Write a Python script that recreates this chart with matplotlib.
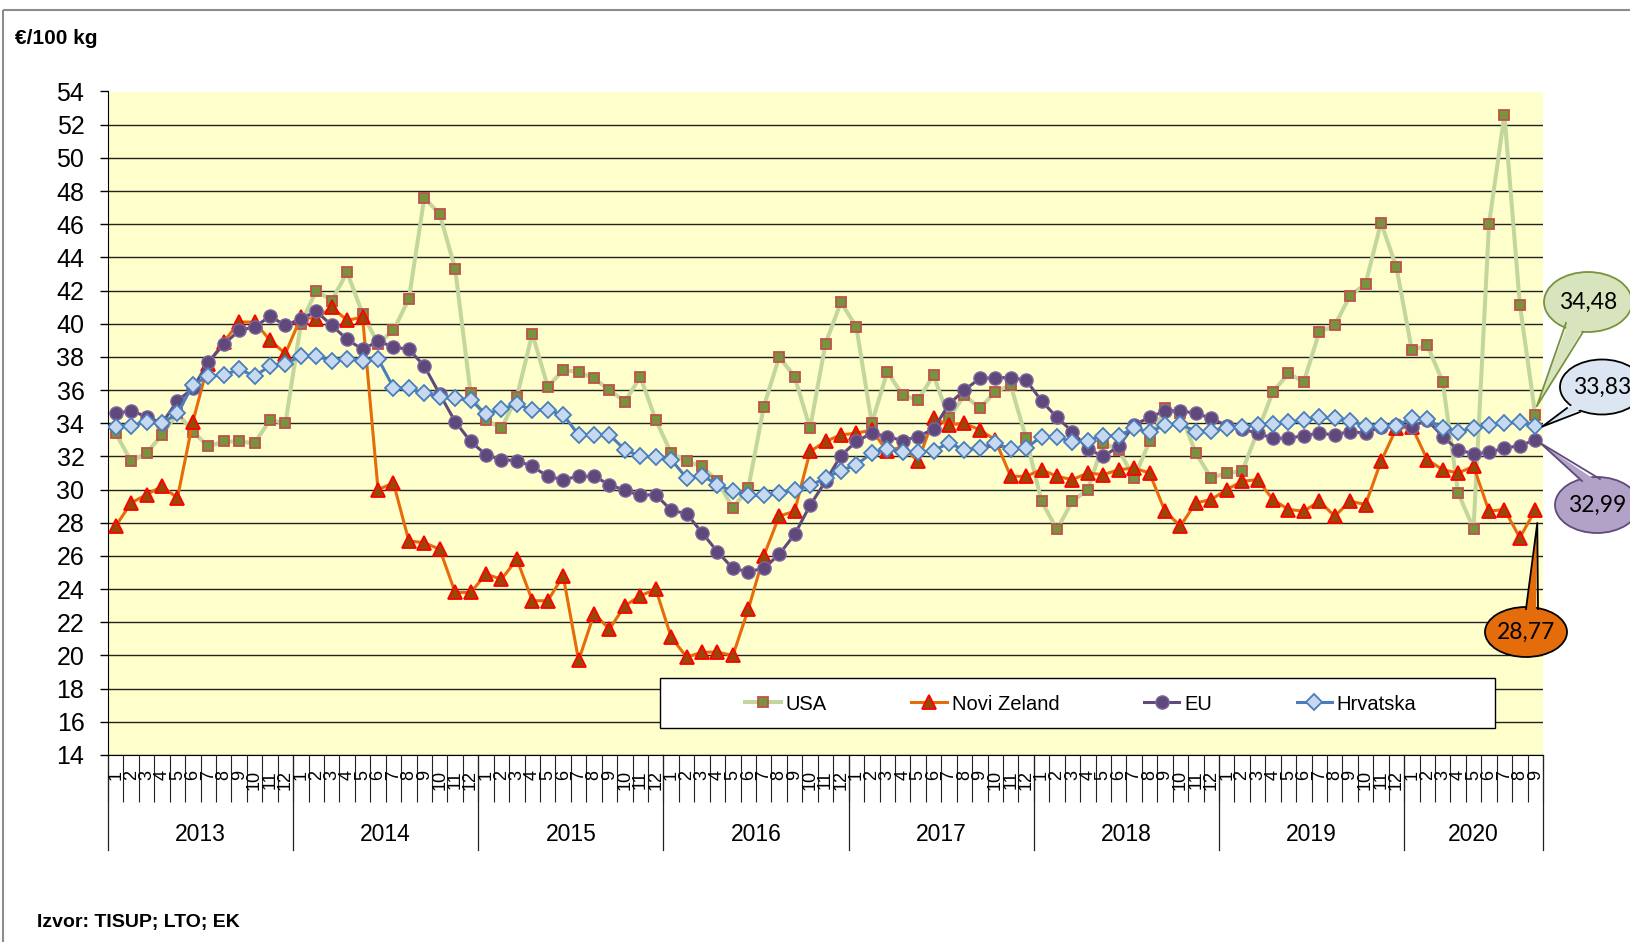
import numpy as np
import matplotlib
matplotlib.use('Agg')
import matplotlib.pyplot as plt
from matplotlib.patches import Ellipse, Polygon, Rectangle

W, H = 1631, 942

# podaci (EUR/100 kg), mjesecno 1/2013 - 9/2020
years = ['2013', '2014', '2015', '2016', '2017', '2018', '2019', '2020']
months_per_year = [12, 12, 12, 12, 12, 12, 12, 9]
month_names = ['1', '2', '3', '4', '5', '6', '7', '8', '9', '10', '11', '12']

usa = [33.4, 31.7, 32.2, 33.3, 34.6, 33.5, 32.6, 32.9, 32.9, 32.8, 34.2, 34.0,
       40.0, 42.0, 41.4, 43.1, 40.6, 38.8, 39.6, 41.5, 47.6, 46.6, 43.3, 35.8,
       34.2, 33.7, 35.6, 39.4, 36.2, 37.2, 37.1, 36.7, 36.0, 35.3, 36.8, 34.2,
       32.2, 31.7, 31.4, 30.5, 28.9, 30.1, 35.0, 38.0, 36.8, 33.7, 38.8, 41.3,
       39.8, 34.0, 37.1, 35.7, 35.4, 36.9, 34.3, 35.7, 34.9, 35.9, 36.3, 33.1,
       29.3, 27.6, 29.3, 30.0, 32.8, 32.4, 30.7, 32.9, 34.9, 34.6, 32.2, 30.7,
       31.0, 31.1, 33.5, 35.9, 37.0, 36.5, 39.5, 39.9, 41.7, 42.4, 46.1, 43.4,
       38.4, 38.7, 36.5, 29.8, 27.65, 46.0, 52.6, 41.15, 34.48]

novi_zeland = [27.8, 29.2, 29.7, 30.2, 29.5, 34.1, 37.6, 38.9, 40.1, 40.1, 39.0, 38.2,
               40.4, 40.3, 41.0, 40.2, 40.4, 30.0, 30.4, 26.9, 26.8, 26.4, 23.8, 23.8,
               24.9, 24.6, 25.8, 23.3, 23.3, 24.8, 19.7, 22.5, 21.6, 23.0, 23.6, 24.0,
               21.1, 19.9, 20.2, 20.2, 20.0, 22.8, 26.0, 28.4, 28.7, 32.3, 32.9, 33.3,
               33.4, 33.6, 32.3, 32.6, 31.7, 34.3, 33.9, 34.0, 33.6, 33.0, 30.8, 30.8,
               31.2, 30.8, 30.6, 31.0, 30.9, 31.2, 31.3, 31.0, 28.7, 27.8, 29.2, 29.4,
               30.0, 30.5, 30.6, 29.4, 28.8, 28.7, 29.3, 28.4, 29.3, 29.1, 31.7, 33.7,
               33.8, 31.8, 31.2, 31.0, 31.4, 28.7, 28.8, 27.1, 28.77]

eu = [34.6, 34.75, 34.4, 34.0, 35.35, 36.1, 37.7, 38.75, 39.6, 39.8, 40.45, 39.9,
      40.3, 40.75, 39.9, 39.05, 38.45, 38.95, 38.6, 38.45, 37.45, 35.75, 34.1, 32.9,
      32.1, 31.8, 31.75, 31.4, 30.8, 30.6, 30.8, 30.8, 30.3, 29.95, 29.65, 29.7,
      28.75, 28.55, 27.4, 26.25, 25.25, 25.05, 25.25, 26.1, 27.3, 29.05, 30.5, 32.05,
      32.9, 33.4, 33.2, 32.95, 33.2, 33.65, 35.15, 36.0, 36.7, 36.75, 36.75, 36.6,
      35.35, 34.35, 33.5, 32.45, 32.0, 32.6, 33.9, 34.35, 34.75, 34.75, 34.6, 34.3,
      33.85, 33.65, 33.4, 33.1, 33.1, 33.25, 33.4, 33.3, 33.5, 33.4, 33.8, 33.9,
      33.8, 34.2, 33.2, 32.4, 32.15, 32.25, 32.5, 32.65, 32.99]

hrvatska = [33.8, 33.85, 34.1, 34.0, 34.6, 36.3, 36.85, 36.9, 37.25, 36.85, 37.45, 37.6,
            38.05, 38.05, 37.75, 37.9, 37.75, 37.9, 36.15, 36.1, 35.8, 35.6, 35.5, 35.4,
            34.55, 34.85, 35.15, 34.8, 34.8, 34.5, 33.3, 33.3, 33.3, 32.4, 32.0, 31.95,
            31.8, 30.7, 30.85, 30.3, 29.9, 29.65, 29.65, 29.8, 30.0, 30.25, 30.7, 31.15,
            31.5, 32.2, 32.45, 32.25, 32.25, 32.35, 32.8, 32.4, 32.5, 32.8, 32.45, 32.5,
            33.2, 33.2, 32.85, 32.95, 33.25, 33.25, 33.7, 33.45, 33.9, 33.95, 33.5, 33.55,
            33.7, 33.8, 33.9, 33.95, 34.05, 34.2, 34.35, 34.3, 34.15, 33.85, 33.85, 33.85,
            34.3, 34.25, 33.7, 33.5, 33.7, 33.9, 34.0, 34.1, 33.83]

plt.rcParams['font.family'] = ['Liberation Sans', 'DejaVu Sans']

fig = plt.figure(figsize=(W / 100, H / 100), dpi=100)
ax = fig.add_axes([108 / W, 1 - 755 / H, (1543 - 108) / W, (755 - 91.5) / H])
ax.set_facecolor('#ffffcc')

x = np.arange(len(usa))
ax.plot(x, usa, color='#c3d69b', lw=2.9, marker='s', ms=7.2, mfc='#77933c',
        mec='#c0504d', mew=1.3, label='USA', zorder=3)
ax.plot(x, novi_zeland, color='#e46c0a', lw=2.2, marker='^', ms=10, mfc='#984807',
        mec='#ff0000', mew=1.3, label='Novi Zeland', zorder=4)
ax.plot(x, eu, color='#604a7b', lw=2.2, marker='o', ms=9.5, mfc='#5f497a',
        mec='#8064a2', mew=1.0, label='EU', zorder=5)
ax.plot(x, hrvatska, color='#4a7ebb', lw=2.2, marker='D', ms=8, mfc='#c6d9f1',
        mec='#4a7ebb', mew=1.3, label='Hrvatska', zorder=6)

ax.set_xlim(-0.5, len(usa) - 0.5)
ax.set_ylim(14, 54)
ax.set_yticks(np.arange(14, 55, 2))
ax.tick_params(axis='y', labelsize=18, length=6, width=1, pad=11)
ax.set_axisbelow(True)
ax.yaxis.grid(True, color='#222222', lw=1.0)
ax.get_ygridlines()[-1].set_visible(False)
for s in ['top', 'right']:
    ax.spines[s].set_visible(False)
ax.spines['left'].set_color('black')
ax.spines['bottom'].set_color('black')

# x os: mjeseci i godine
ax.set_xticks(np.arange(-0.5, len(usa), 1))
ax.set_xticklabels([])
ax.tick_params(axis='x', length=34, width=0.8, color='#222222')
xt = ax.get_xaxis_transform()
pos = 0
bounds = [-0.5]
for yr, nm in zip(years, months_per_year):
    for m in range(nm):
        ax.text(pos + m, -0.023, month_names[m], rotation=90, ha='center', va='top',
                fontsize=13, transform=xt)
    ax.text(pos + (nm - 1) / 2, -0.1205, yr, ha='center', va='center',
            fontsize=16.5, transform=xt)
    pos += nm
    bounds.append(pos - 0.5)
for b in bounds:
    ax.plot([b, b], [0, -95 / 664], color='#222222', lw=0.9, transform=xt, clip_on=False)

# legenda
ax.add_patch(Rectangle((660 / W, 1 - 728 / H), (1495 - 660) / W, 50 / H,
                       transform=fig.transFigure, fc='white', ec='black', lw=1,
                       clip_on=False, zorder=10))
leg = ax.legend(loc='center', bbox_to_anchor=(1081 / W, 1 - 704 / H),
                bbox_transform=fig.transFigure, ncol=4, frameon=False,
                fontsize=14.5, handlelength=1.75, handletextpad=0.25,
                columnspacing=4.2)
leg.set_zorder(11)

fig.text(15 / W, 1 - 38 / H, '€/100 kg', fontsize=15, fontweight='bold',
         va='center', ha='left')
fig.text(37 / W, 1 - 923 / H, 'Izvor: TISUP; LTO; EK', fontsize=14, fontweight='bold',
         va='center', ha='left')

# okvir i oblacici s posljednjim vrijednostima
ov = fig.add_axes([0, 0, 1, 1], zorder=20)
ov.set_xlim(0, W)
ov.set_ylim(H, 0)
ov.axis('off')
ov.patch.set_alpha(0)
ov.add_patch(Rectangle((3.5, 9.5), W + 10, H + 10, fill=False, ec='#8c8c8c', lw=1.5))


def to_px(xv, yv):
    return ov.transData.inverted().transform(ax.transData.transform((xv, yv)))


last = len(usa) - 1
callouts = [
    (usa[-1], (1588, 302), 88, 60, '#d7e4bd', '#77933c', (1.5, -9), [(1566, 323), (1583, 332)]),
    (hrvatska[-1], (1602, 387), 84, 55, '#dce6f2', 'black', (7, 0.5), [(1567, 408), (1580, 412)]),
    (eu[-1], (1597, 505), 84, 56, '#b3a2c7', '#604a7b', (5, 3), [(1582, 481), (1600, 479)]),
    (novi_zeland[-1], (1526, 632), 82, 50, '#e46c0a', 'black', (2, 13), [(1526, 609), (1538, 609)]),
]
for val, c, w, h, fc, ec, off, base in callouts:
    px, py = to_px(last, val)
    tip = (px + off[0], py + off[1])
    ov.add_patch(Ellipse(c, w, h, fc=fc, ec=ec, lw=1.3, clip_on=False, zorder=2))
    b0 = (base[0][0] + (c[0] - base[0][0]) * 0.15, base[0][1] + (c[1] - base[0][1]) * 0.15)
    b1 = (base[1][0] + (c[0] - base[1][0]) * 0.15, base[1][1] + (c[1] - base[1][1]) * 0.15)
    ov.add_patch(Polygon([b0, tip, b1], closed=True, fc=fc, ec='none', zorder=3))
    ov.plot([base[0][0], tip[0], base[1][0]], [base[0][1], tip[1], base[1][1]],
            color=ec, lw=1.3, zorder=4)
    ov.text(c[0], c[1], f'{val:.2f}'.replace('.', ','), ha='center', va='center',
            fontsize=16.5, family=['Lato', 'DejaVu Sans'], zorder=5)

fig.savefig('out.png', dpi=100)
